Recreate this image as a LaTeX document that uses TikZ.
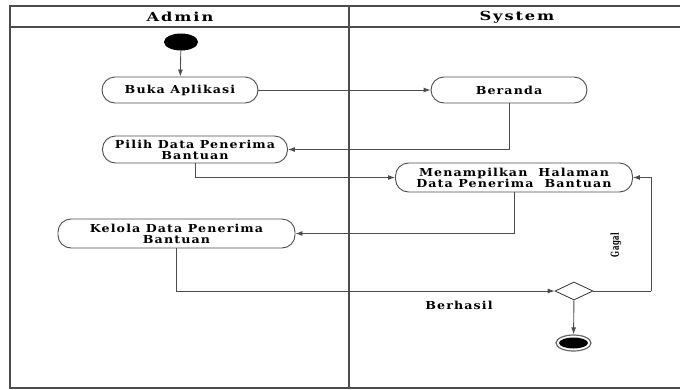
\documentclass[tikz,border=0pt]{standalone}
\usepackage{fontspec}
\setmainfont{DejaVu Serif}
\newfontfamily\hurufaksi[FakeStretch=1.15, LetterSpace=10]{DejaVu Serif}
\newfontfamily\hurufjudul[FakeStretch=1.3, LetterSpace=15]{DejaVu Serif}
\usetikzlibrary{shapes.geometric,arrows.meta}

\begin{document}
\begin{tikzpicture}[x=1pt, y=-1pt,
		lajur/.style={line width=1.6pt, color=black!70},
		aksi/.style={draw=black!70, line width=0.9pt, rounded corners=13pt, inner sep=1pt,
			align=center, font=\hurufaksi\bfseries\fontsize{11}{11}\selectfont},
		alur/.style={line width=0.9pt, color=black!70, -{Latex[length=7pt, width=5pt]}},
		garis/.style={line width=0.9pt, color=black!70},
		tulisan/.style={font=\hurufaksi\bfseries\fontsize{11}{11}\selectfont},
		judul/.style={font=\hurufjudul\bfseries\fontsize{12.5}{12.5}\selectfont}]
		%%%%% START %%%%%
		
		\useasboundingbox (0, 0) rectangle (680, 389);
		
		\draw[lajur] (680, 6) -- (10, 6) -- (10, 388) -- (680, 388);
		\draw[lajur] (10, 27) -- (680, 27);
		\draw[lajur] (349, 6) -- (349, 388);
		\node[judul] (admin) at (180, 17) {Admin};
		\node[judul] (sistem) at (517, 17) {System};
		
		\node[ellipse, fill=black, minimum width=34, minimum height=17, inner sep=0pt] (mulai) at (181, 42) {};
		
		\node[aksi, minimum width=156, minimum height=26] (buka) at (180, 90) {Buka Aplikasi};
		\node[aksi, minimum width=156, minimum height=26] (beranda) at (509, 90) {Beranda};
		\node[aksi, minimum width=185, minimum height=27] (pilih) at (195, 149.5) {Pilih Data Penerima\\Bantuan};
		\node[aksi, minimum width=237, minimum height=29] (tampil) at (514, 177.5) {Menampilkan\ \ Halaman\\Data Penerima\ \ Bantuan};
		\node[aksi, minimum width=237, minimum height=29] (kelola) at (176.5, 233.5) {Kelola Data Penerima\\Bantuan};
		
		\node[diamond, draw=black!80, line width=0.8pt, minimum width=38, minimum height=18, inner sep=0pt] (cabang) at (574, 291) {};
		\coordinate (belok) at (651, 291);
		
		\node[ellipse, draw=black!60, line width=1.2pt, minimum width=35, minimum height=16, inner sep=0pt] (akhir) at (573.5, 343) {};
		\node[ellipse, fill=black, minimum width=29, minimum height=11, inner sep=0pt] (akhirdalam) at (573.5, 343) {};
		
		\draw[alur] (mulai) -- (buka);
		\draw[alur] (buka) -- (beranda);
		\draw[alur] (beranda.south) |- (pilih.east);
		\draw[alur] (pilih.south) |- (tampil.west);
		\draw[alur] (tampil.south) |- (kelola.east);
		\draw[alur] (kelola.south) |- (cabang.west);
		\draw[garis] (cabang.east) -- (belok);
		\draw[alur] (belok) |- (tampil.east);
		\draw[alur] (cabang) -- (akhir);
		
		\node[tulisan] (berhasil) at (459, 305) {Berhasil};
		\node[tulisan, rotate=90, xscale=0.55] (gagal) at (616, 245) {Gagal};
		
		%%%%% END %%%%%
	\end{tikzpicture}
\end{document}
